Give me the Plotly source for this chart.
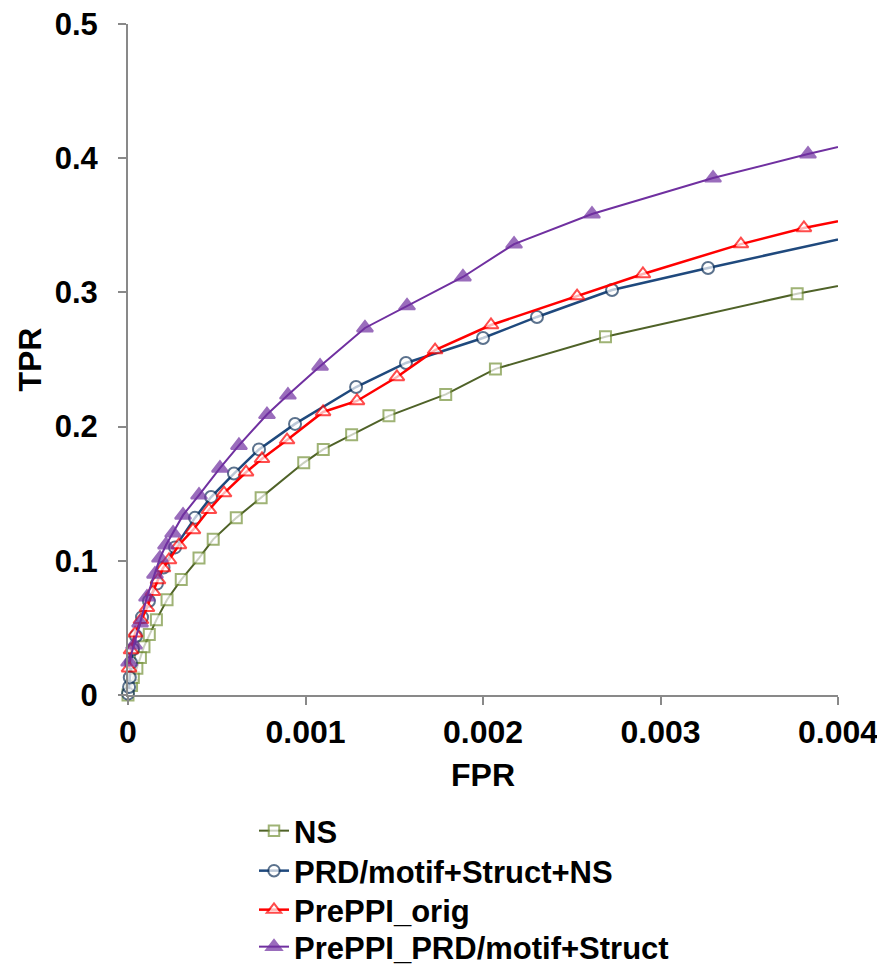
import plotly.graph_objs as go

# ROC data
ns_fpr = [0, 0.00002, 0.00003, 0.00005, 0.00007, 0.00009, 0.00012, 0.00016, 0.00022, 0.0003,
          0.0004, 0.00048, 0.00061, 0.00075, 0.00099, 0.0011, 0.00126, 0.00147, 0.00179,
          0.00207, 0.00269, 0.00377, 0.0048]
ns_tpr = [0, 0.007, 0.013, 0.02, 0.028, 0.036, 0.045, 0.056, 0.071, 0.086,
          0.102, 0.116, 0.132, 0.147, 0.173, 0.183, 0.194, 0.208, 0.224,
          0.243, 0.267, 0.299, 0.325]

prd_fpr = [0, 0.000006, 0.00001, 0.000017, 0.000028, 0.000045, 0.000079, 0.000118, 0.000163,
           0.0002, 0.000265, 0.000377, 0.000468, 0.000597, 0.000738, 0.000941, 0.001285,
           0.001566, 0.002, 0.002304, 0.002727, 0.003268, 0.0045]
prd_tpr = [0.001, 0.006, 0.013, 0.024, 0.034, 0.044, 0.058, 0.070, 0.083,
           0.095, 0.110, 0.132, 0.1475, 0.165, 0.183, 0.202, 0.2295,
           0.2474, 0.266, 0.2817, 0.3018, 0.3182, 0.354]

orig_fpr = [0.000006, 0.000017, 0.00004, 0.000073, 0.000107, 0.00014, 0.000169, 0.000197,
            0.000231, 0.000287, 0.000366, 0.000456, 0.000541, 0.000665, 0.000755, 0.000896,
            0.001099, 0.00129, 0.001515, 0.00173, 0.002045, 0.00253, 0.002901, 0.003453,
            0.003808, 0.0045]
orig_tpr = [0.020, 0.0335, 0.046, 0.056, 0.065, 0.077, 0.0857, 0.0946,
            0.1006, 0.1118, 0.123, 0.138, 0.1505, 0.166, 0.176, 0.190,
            0.2109, 0.2191, 0.237, 0.257, 0.2757, 0.2973, 0.3137, 0.336,
            0.348, 0.366]

comb_fpr = [0.000006, 0.000034, 0.000068, 0.000107, 0.000152, 0.00018, 0.000214, 0.000254,
            0.00031, 0.0004, 0.000518, 0.000625, 0.000783, 0.000901, 0.001082, 0.001335,
            0.001572, 0.001887, 0.002175, 0.002614, 0.003296, 0.003831, 0.0045]
comb_tpr = [0.0246, 0.0373, 0.0537, 0.073, 0.090, 0.102, 0.1118, 0.1207,
            0.134, 0.149, 0.169, 0.186, 0.209, 0.2235, 0.245, 0.2735,
            0.290, 0.3115, 0.336, 0.3584, 0.3852, 0.4031, 0.424]

names = ['NS', 'PRD/motif+Struct+NS', 'PrePPI_orig', 'PrePPI_PRD/motif+Struct']

x_ticks = [0, 0.001, 0.002, 0.003, 0.004]
x_tick_text = ['0', '0.001', '0.002', '0.003', '0.004']
y_ticks = [0, 0.1, 0.2, 0.3, 0.4, 0.5]
y_tick_text = ['0', '0.1', '0.2', '0.3', '0.4', '0.5']

X_MAX = 0.004
FIG_W, FIG_H = 877, 959   # page body adds an 8px margin round the figure
FONT = 'Liberation Sans, Arial, sans-serif'
LEGEND_ROWS = [823, 863, 902, 939]   # row centres, px from figure top


def make_trace(xs, ys, name, legend, line_color, edge_color, fill_color, symbol, size, width):
    '''Line + marker trace; markers past the axis end are hidden'''
    sizes = [size if x <= X_MAX else 0 for x in xs]
    return go.Scatter(
        x=xs, y=ys, name=name, legend=legend, mode='lines+markers', cliponaxis=False,
        line=dict(color=line_color, width=width),
        marker=dict(symbol=symbol, size=sizes, color=fill_color,
                    line=dict(color=edge_color, width=2)))


traces = [
    make_trace(ns_fpr, ns_tpr, names[0], 'legend', '#4f6228', '#77933c', 'white', 'square', 11, 2),
    make_trace(prd_fpr, prd_tpr, names[1], 'legend2', '#1f497d', '#17375e', 'white', 'circle', 12, 2.5),
    make_trace(orig_fpr, orig_tpr, names[2], 'legend3', '#ff0000', '#ff0000', 'white', 'triangle-up', 13, 2.5),
    make_trace(comb_fpr, comb_tpr, names[3], 'legend4', '#7030a0', '#7030a0', '#7030a0', 'triangle-up', 14, 2),
]

fig = go.Figure(traces)

axis_common = dict(
    showgrid=False, zeroline=False, showline=True, linecolor='#898989', linewidth=2,
    ticks='outside', ticklen=8, tickwidth=2, tickcolor='#898989', automargin=False,
    ticklabeloverflow='allow',
)


def legend_box(row_y):
    '''One single-entry legend per row so the row spacing matches the reference'''
    return dict(xref='container', yref='container', x=246 / FIG_W, y=1 - row_y / FIG_H,
                xanchor='left', yanchor='middle',
                font=dict(size=31, weight='bold'), bgcolor='rgba(0,0,0,0)')


fig.update_layout(
    width=FIG_W, height=FIG_H,
    margin=dict(l=120, r=47, t=16, b=272, autoexpand=False),
    plot_bgcolor='white', paper_bgcolor='white',
    font=dict(family=FONT, color='black'),
    xaxis=dict(range=[0, X_MAX], tickvals=x_ticks, ticktext=x_tick_text, **axis_common,
               tickfont=dict(size=32, weight='bold'), ticklabelstandoff=0,
               title=dict(text='FPR', standoff=14,
                          font=dict(size=32, weight='bold'))),
    yaxis=dict(range=[0, 0.5], tickvals=y_ticks, ticktext=y_tick_text, **axis_common,
               tickfont=dict(size=31, weight='bold'), ticklabelstandoff=14),
    annotations=[dict(text='TPR', xref='paper', yref='paper', x=-0.1394, y=0.5,
                      xanchor='center', yanchor='middle', textangle=-90, showarrow=False,
                      font=dict(size=32, weight='bold'))],
    showlegend=True,
    legend=legend_box(LEGEND_ROWS[0]),
    legend2=legend_box(LEGEND_ROWS[1]),
    legend3=legend_box(LEGEND_ROWS[2]),
    legend4=legend_box(LEGEND_ROWS[3]),
)

fig.write_html("out.html")
